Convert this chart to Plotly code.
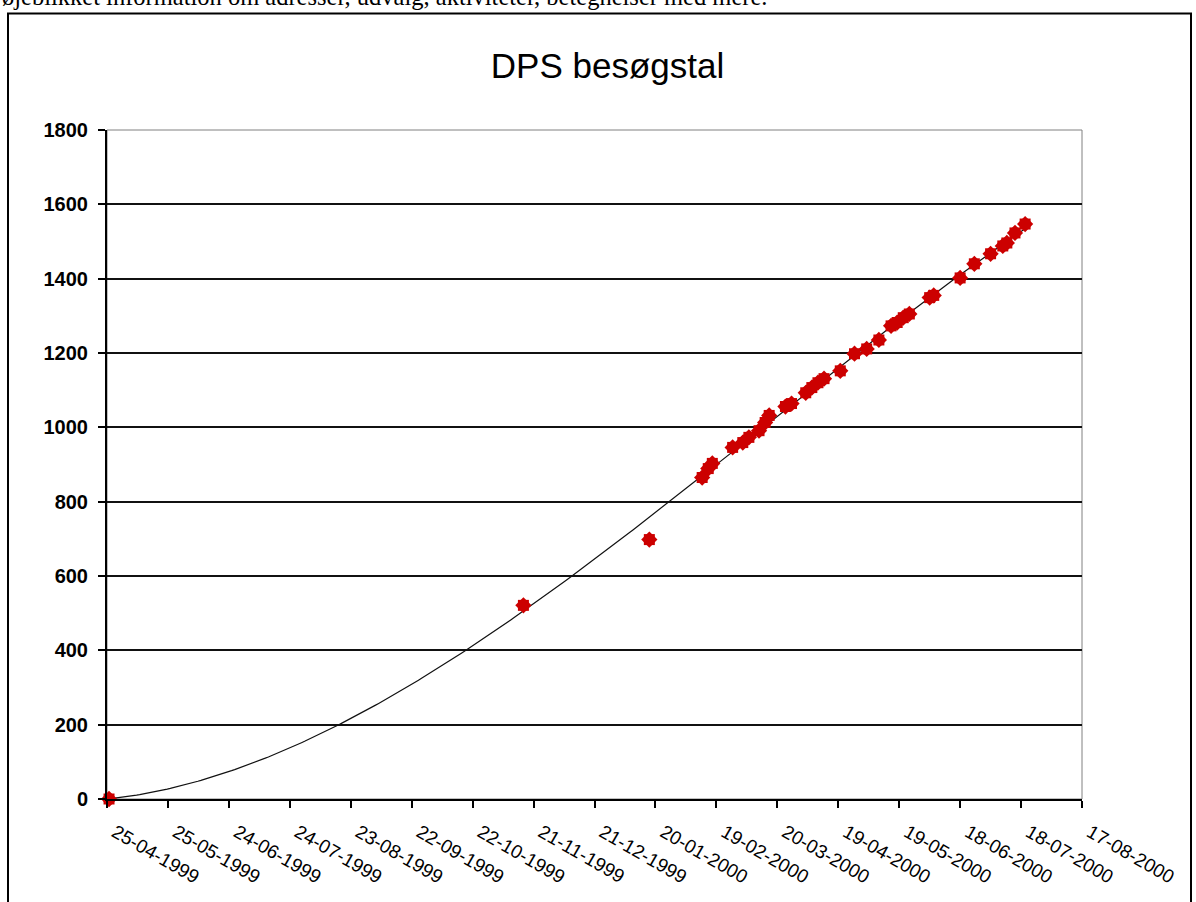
import numpy as np
import pandas as pd
import plotly.graph_objects as go

# Visitor counts (besøgstal) recorded on each date
dates = [
    "1999-04-26", "1999-11-16", "2000-01-17",
    "2000-02-12", "2000-02-15", "2000-02-17", "2000-02-27",
    "2000-03-03", "2000-03-06", "2000-03-11", "2000-03-14", "2000-03-16",
    "2000-03-24", "2000-03-27", "2000-04-03", "2000-04-06", "2000-04-09",
    "2000-04-12", "2000-04-20", "2000-04-27", "2000-05-03", "2000-05-09",
    "2000-05-15", "2000-05-18", "2000-05-21", "2000-05-24", "2000-06-03",
    "2000-06-05", "2000-06-18", "2000-06-25", "2000-07-03", "2000-07-09",
    "2000-07-11", "2000-07-15", "2000-07-20",
]
visits = [
    0, 521, 698,
    865, 889, 903, 946,
    959, 973, 991, 1013, 1032,
    1056, 1064, 1093, 1107, 1120,
    1131, 1152, 1198, 1211, 1235,
    1273, 1282, 1295, 1305, 1349,
    1355, 1402, 1440, 1467, 1488,
    1496, 1523, 1547,
]

x_tick_start = "1999-04-25"
x_range = ["1999-04-25", "2000-08-17"]
y_range = [0, 1800]

header_text = "øjeblikket information om adresser, udvalg, aktiviteter, betegnelser med mere."
title_text = "DPS besøgstal"

# Polynomial trendline (3rd order) fitted to the observations
t = pd.to_datetime(dates)
days = np.asarray((t - t[0]).days, dtype=float)
coef = np.polyfit(days, np.asarray(visits, dtype=float), 3)
fit_days = np.linspace(days.min(), days.max(), 300)
fit_dates = t[0] + pd.to_timedelta(fit_days, unit="D")
fit_vals = np.polyval(coef, fit_days)

RED = "#CC0000"
fig = go.Figure()
fig.add_trace(go.Scatter(
    x=fit_dates, y=fit_vals, mode="lines",
    line=dict(color="#111111", width=1.2), hoverinfo="skip", showlegend=False,
))
# star-like markers: a square and a diamond stacked on each point
fig.add_trace(go.Scatter(
    x=dates, y=visits, mode="markers", cliponaxis=False,
    marker=dict(symbol="square", size=11, color=RED, line=dict(width=0)),
    showlegend=False,
))
fig.add_trace(go.Scatter(
    x=dates, y=visits, mode="markers", cliponaxis=False,
    marker=dict(symbol="diamond", size=12.5, color=RED, line=dict(width=0)),
    showlegend=False,
))

W, H = 1196, 902
L, R, T, B = 107, 1082, 129.5, 799
pw, ph = R - L, B - T

def px_x(px):
    return (px - L) / pw

def px_y(py):
    return (B - py) / ph

shapes = [
    # plot area border
    dict(type="rect", xref="paper", yref="paper", x0=0, x1=1, y0=0, y1=1,
         line=dict(color="#808080", width=1), layer="below"),
    # chart frame
    dict(type="rect", xref="paper", yref="paper",
         x0=px_x(8), x1=px_x(1191), y0=px_y(920), y1=px_y(13),
         line=dict(color="#000000", width=2)),
]

fig.update_layout(
    width=W, height=H,
    margin=dict(l=L, r=W - R, t=T, b=H - B),
    paper_bgcolor="white", plot_bgcolor="white",
    title=dict(text=title_text, x=607.5 / W, xanchor="center",
               y=1 - 66 / H, yanchor="middle",
               font=dict(family="Liberation Sans, Arial", size=35, color="black")),
    shapes=shapes,
    annotations=[dict(
        text=header_text, xref="paper", yref="paper",
        x=px_x(0), y=px_y(11), xanchor="left", yanchor="bottom",
        showarrow=False,
        font=dict(family="Liberation Serif, Times New Roman", size=24.5, color="black"),
    )],
    showlegend=False,
)

fig.update_xaxes(
    type="date", range=x_range,
    tickmode="linear", tick0=x_tick_start, dtick=30 * 86400000,
    tickformat="%d-%m-%Y", tickangle=30,
    ticks="outside", ticklen=7, tickwidth=2, tickcolor="black",
    ticklabelstandoff=6, ticklabelshift=8,
    showline=True, linecolor="black", linewidth=2,
    showgrid=False, zeroline=False,
    tickfont=dict(family="Liberation Sans, Arial", size=19, color="black"),
)
fig.update_yaxes(
    range=y_range, tickmode="linear", tick0=0, dtick=200,
    ticks="outside", ticklen=7, tickwidth=2, tickcolor="black",
    ticklabelstandoff=6,
    showline=True, linecolor="black", linewidth=2,
    showgrid=True, gridcolor="#111111", gridwidth=2, zeroline=False,
    tickfont=dict(family="Liberation Sans, Arial", size=20, color="black", weight="bold"),
)

fig.write_html("out.html")
